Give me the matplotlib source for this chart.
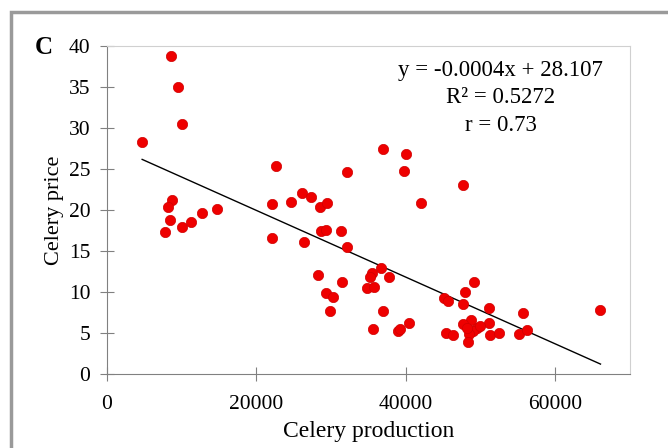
import numpy as np
import matplotlib.pyplot as plt
from matplotlib.patches import Rectangle

# Celery production vs. price
production = [4720, 8560, 9500, 10000, 8740, 8160, 8470, 7800, 9990, 11200,
              12670, 14680, 22570, 22080, 22080, 24660, 26050, 26360, 27300, 28500,
              29480, 28590, 29260, 31270, 32070, 32200, 28230, 31530, 29260, 30240,
              29880, 36970, 40000, 39700, 42000, 36660, 35500, 35190, 37690, 34790,
              35770, 36970, 35550, 38940, 39250, 40450, 47630, 49150, 47950, 45130,
              45590, 47680, 51160, 55660, 66060, 48750, 47680, 51160, 49470, 49010,
              48480, 45320, 46300, 48300, 51340, 52500, 55220, 56290, 48200, 49900]
price = [28.3, 38.8, 35.0, 30.5, 21.2, 20.35, 18.85, 17.35, 17.9, 18.6,
         19.6, 20.15, 25.4, 20.7, 16.65, 21.0, 22.1, 16.1, 21.6, 20.35,
         20.9, 17.4, 17.6, 17.5, 15.55, 24.6, 12.1, 11.2, 9.95, 9.45,
         7.7, 27.5, 26.9, 24.8, 20.9, 13.0, 12.3, 11.9, 11.9, 10.5,
         10.65, 7.7, 5.55, 5.3, 5.45, 6.2, 23.1, 11.2, 10.05, 9.25,
         8.95, 8.5, 8.1, 7.4, 7.85, 6.6, 6.05, 6.2, 5.6, 5.3,
         4.9, 5.05, 4.8, 3.9, 4.8, 5.0, 4.87, 5.37, 5.6, 5.9]

slope = -0.000407
intercept = 28.107
eq_lines = ["y = -0.0004x + 28.107", "R² = 0.5272", "r = 0.73"]

plt.rcParams['font.family'] = ['Liberation Serif', 'DejaVu Serif']

fig = plt.figure(figsize=(6.68, 4.48), dpi=100)
ax = fig.add_axes([0.160, 0.165, 0.783, 0.732])

# outer frame of the figure panel
fig.patches.append(Rectangle((11 / 668, -0.05), 1.1, 1 - 12 / 448 + 0.05,
                             transform=fig.transFigure, fill=False,
                             edgecolor='#9a9a9a', linewidth=2.5, zorder=0))

ax.scatter(production, price, s=55, color='#ee0000', edgecolors='#d00000',
           linewidths=0.5, zorder=3)

xs = np.array([min(production), max(production)])
ax.plot(xs, slope * xs + intercept, color='black', linewidth=1, zorder=2)

ax.set_xlim(0, 70000)
ax.set_ylim(0, 40)
ax.set_xticks([0, 20000, 40000, 60000])
ax.set_yticks(range(0, 41, 5))
ax.tick_params(direction='inout', length=10, width=0.8, color='#808080',
               labelsize=15.5, pad=7)
ax.tick_params(axis='x', pad=10)

for side in ['top', 'right']:
    ax.spines[side].set_color('#d0d0d0')
for side in ['left', 'bottom']:
    ax.spines[side].set_color('#808080')

ax.set_xlabel("Celery production", fontsize=17, labelpad=5)
ax.set_ylabel("Celery price", fontsize=16, labelpad=3)

for i, line in enumerate(eq_lines):
    ax.text(0.753, 0.927 - i * 0.085, line, transform=ax.transAxes,
            ha='center', va='center', fontsize=16.5)

fig.text(35 / 668, 1 - 48 / 448, "C", fontsize=18, fontweight='bold',
         ha='left', va='center')

fig.savefig("out.png", dpi=100)
